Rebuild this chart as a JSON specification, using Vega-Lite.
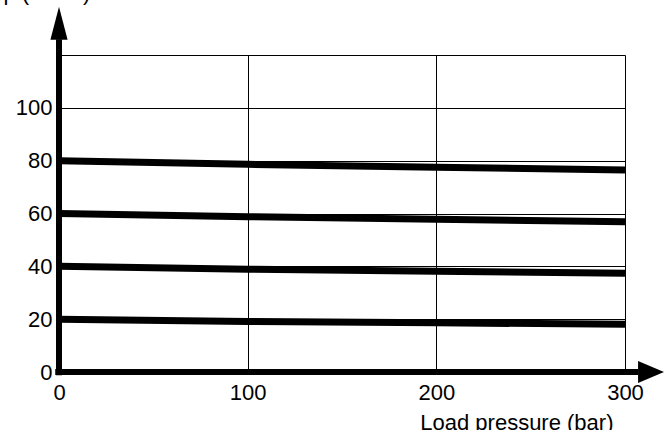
{
  "$schema": "https://vega.github.io/schema/vega-lite/v6.json",
  "width": 566,
  "height": 317,
  "autosize": "none",
  "padding": {"left": 59, "top": 55, "right": 39, "bottom": 58},
  "background": "white",
  "config": {
    "view": {"stroke": null},
    "font": "Liberation Sans",
    "axis": {"labelFont": "Liberation Sans", "titleFont": "Liberation Sans", "labelColor": "black", "titleColor": "black"}
  },
  "datasets": {
    "curves": [
      {"load": 0, "flow": 80, "series": "80"},
      {"load": 100, "flow": 78.6, "series": "80"},
      {"load": 200, "flow": 77.5, "series": "80"},
      {"load": 300, "flow": 76.5, "series": "80"},
      {"load": 0, "flow": 60, "series": "60"},
      {"load": 100, "flow": 58.8, "series": "60"},
      {"load": 200, "flow": 57.8, "series": "60"},
      {"load": 300, "flow": 56.9, "series": "60"},
      {"load": 0, "flow": 40, "series": "40"},
      {"load": 100, "flow": 38.9, "series": "40"},
      {"load": 200, "flow": 38.1, "series": "40"},
      {"load": 300, "flow": 37.4, "series": "40"},
      {"load": 0, "flow": 20, "series": "20"},
      {"load": 100, "flow": 19.1, "series": "20"},
      {"load": 200, "flow": 18.6, "series": "20"},
      {"load": 300, "flow": 18.1, "series": "20"}
    ]
  },
  "layer": [
    {
      "data": {"name": "curves"},
      "mark": {"type": "line", "color": "black", "strokeWidth": 7, "strokeCap": "butt"},
      "encoding": {
        "x": {
          "field": "load", "type": "quantitative",
          "scale": {"domain": [0, 300], "nice": false},
          "axis": {
            "values": [0, 100, 200, 300],
            "grid": true, "gridColor": "black", "gridWidth": 1, "gridOpacity": 1,
            "domain": false, "ticks": false, "labelFlush": false,
            "labelFontSize": 22, "labelPadding": 10,
            "title": "Load pressure (bar)",
            "titleFontSize": 22, "titleFontWeight": "normal",
            "titleAnchor": null, "titleAlign": "right", "titleBaseline": "alphabetic",
            "titleX": 554, "titleY": 57
          }
        },
        "y": {
          "field": "flow", "type": "quantitative",
          "scale": {"domain": [0, 120], "nice": false},
          "axis": {
            "values": [0, 20, 40, 60, 80, 100, 120],
            "labelExpr": "datum.value == 120 ? '' : datum.label",
            "grid": true, "gridColor": "black", "gridWidth": 1, "gridOpacity": 1,
            "domain": false, "ticks": false, "labelFlush": false,
            "labelFontSize": 22, "labelPadding": 7,
            "title": "p (L/min)",
            "titleFontSize": 22, "titleFontWeight": "normal",
            "titleAngle": 0, "titleAnchor": null, "titleAlign": "left", "titleBaseline": "alphabetic",
            "titleX": -56, "titleY": -56
          }
        },
        "detail": {"field": "series", "type": "nominal"}
      }
    },
    {
      "data": {"values": [{}]},
      "mark": {"type": "rule", "color": "black", "strokeWidth": 6},
      "encoding": {
        "x": {"datum": 0, "type": "quantitative"},
        "y": {"datum": -1.2, "type": "quantitative"},
        "y2": {"datum": 126}
      }
    },
    {
      "data": {"values": [{}]},
      "mark": {"type": "rule", "color": "black", "strokeWidth": 6},
      "encoding": {
        "x": {"datum": -2, "type": "quantitative"},
        "x2": {"datum": 307},
        "y": {"datum": 0, "type": "quantitative"}
      }
    },
    {
      "data": {"values": [{}]},
      "mark": {"type": "point", "filled": true, "color": "black", "opacity": 1, "shape": "M0,-1L0.52,1L-0.52,1Z", "size": 1089, "strokeWidth": 0},
      "encoding": {
        "x": {"datum": 0, "type": "quantitative"},
        "y": {"datum": 132, "type": "quantitative"}
      }
    },
    {
      "data": {"values": [{}]},
      "mark": {"type": "point", "filled": true, "color": "black", "opacity": 1, "shape": "M1,0L-1,0.85L-1,-0.85Z", "size": 676, "strokeWidth": 0},
      "encoding": {
        "x": {"datum": 313.8, "type": "quantitative"},
        "y": {"datum": 0, "type": "quantitative"}
      }
    }
  ]
}
